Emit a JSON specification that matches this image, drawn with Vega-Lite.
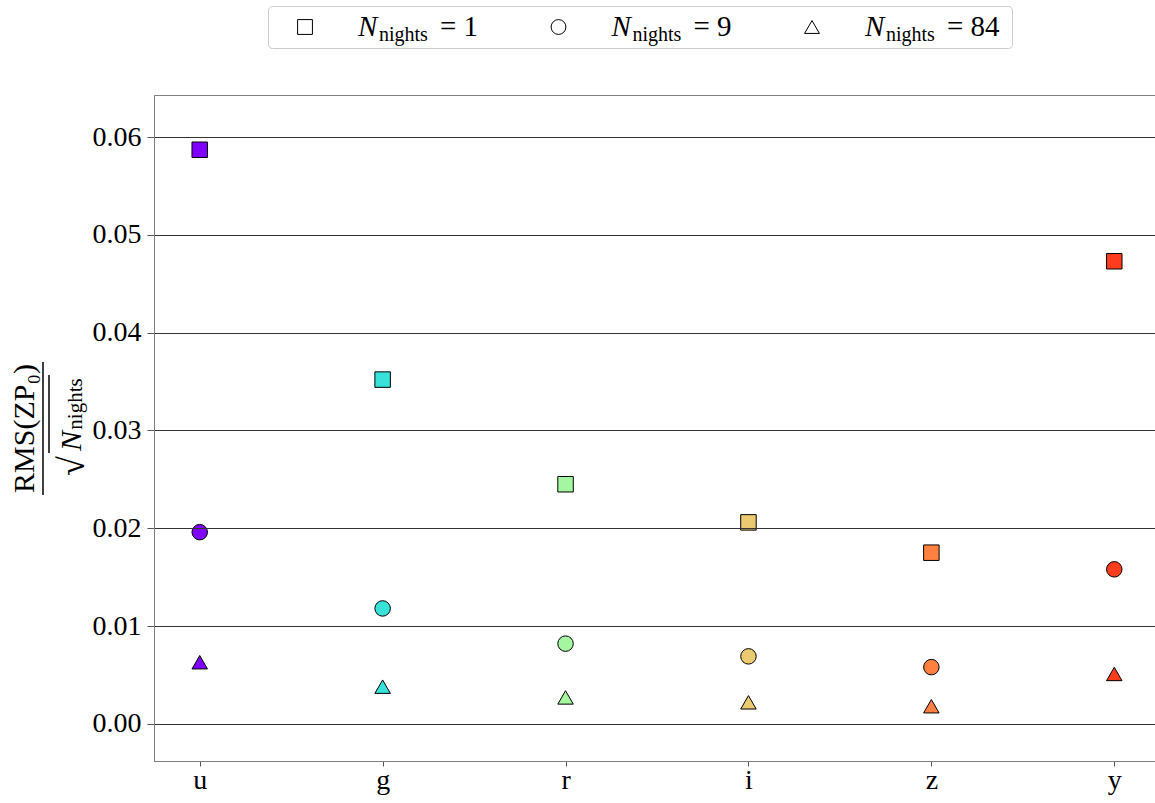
{
  "$schema": "https://vega.github.io/schema/vega-lite/v6.json",
  "padding": {"left": 0, "top": 5, "right": 0, "bottom": 0},
  "background": "white",
  "bounds": "flush",
  "spacing": 89,
  "config": {
    "font": "Liberation Serif",
    "text": {"font": "Liberation Serif", "color": "black"}
  },
  "vconcat": [
    {
      "bounds": "flush",
      "spacing": 0,
      "hconcat": [
        {
          "width": 268,
          "height": 42,
          "view": {"stroke": null},
          "data": {"values": [{"t": ""}]},
          "mark": {"type": "text"},
          "encoding": {"text": {"field": "t"}}
        },
        {
          "width": 744,
          "height": 42,
          "view": {"stroke": "#cccccc", "cornerRadius": 4, "strokeWidth": 1},
          "data": {"values": [
            {"k": 0, "shape": "square", "num": "= 1"},
            {"k": 1, "shape": "circle", "num": "= 9"},
            {"k": 2, "shape": "triangle-up", "num": "= 84"}
          ]},
          "encoding": {
            "x": {"field": "k", "type": "quantitative", "scale": {"domain": [-0.146, 2.789], "nice": false, "zero": false}, "axis": null}
          },
          "layer": [
            {
              "mark": {"type": "point", "filled": false, "stroke": "black", "strokeWidth": 1, "size": 220, "opacity": 1},
              "encoding": {"shape": {"field": "shape", "type": "nominal", "scale": null, "legend": null}}
            },
            {
              "mark": {"type": "text", "text": "N", "fontStyle": "italic", "fontSize": 29, "align": "left", "baseline": "alphabetic", "dx": 53, "dy": 9}
            },
            {
              "mark": {"type": "text", "text": "nights", "fontSize": 20, "align": "left", "baseline": "alphabetic", "dx": 74, "dy": 14}
            },
            {
              "mark": {"type": "text", "fontSize": 29, "align": "left", "baseline": "alphabetic", "dx": 135, "dy": 9},
              "encoding": {"text": {"field": "num", "type": "nominal"}}
            }
          ]
        }
      ]
    },
    {
      "bounds": "flush",
      "spacing": 54,
      "hconcat": [
        {
          "width": 100,
          "height": 665,
          "view": {"stroke": null},
          "data": {"values": [
            {"part": "num", "px": 0.25, "py": 0.4985, "t": "RMS(ZP₀)"},
            {"part": "N", "px": 0.72, "py": 0.4797, "t": "N"},
            {"part": "sub", "px": 0.76, "py": 0.5353, "t": "nights"},
            {"part": "sqrt", "px": 0.73, "py": 0.4421, "t": "√"}
          ]},
          "encoding": {
            "x": {"field": "px", "type": "quantitative", "scale": {"domain": [0, 1], "nice": false, "zero": false}, "axis": null},
            "y": {"field": "py", "type": "quantitative", "scale": {"domain": [0, 1], "nice": false, "zero": false}, "axis": null}
          },
          "layer": [
            {
              "transform": [{"filter": "datum.part == 'num'"}],
              "mark": {"type": "text", "angle": 270, "fontSize": 30, "align": "center", "baseline": "middle"},
              "encoding": {"text": {"field": "t", "type": "nominal"}}
            },
            {
              "transform": [{"filter": "datum.part == 'N'"}],
              "mark": {"type": "text", "angle": 270, "fontSize": 30, "fontStyle": "italic", "align": "center", "baseline": "middle"},
              "encoding": {"text": {"field": "t", "type": "nominal"}}
            },
            {
              "transform": [{"filter": "datum.part == 'sub'"}],
              "mark": {"type": "text", "angle": 270, "fontSize": 21, "align": "center", "baseline": "middle"},
              "encoding": {"text": {"field": "t", "type": "nominal"}}
            },
            {
              "transform": [{"filter": "datum.part == 'sqrt'"}],
              "mark": {"type": "text", "angle": 270, "fontSize": 36, "align": "center", "baseline": "middle"},
              "encoding": {"text": {"field": "t", "type": "nominal"}}
            },
            {
              "data": {"values": [
                {"lx": 0.43, "ly1": 0.3985, "ly2": 0.5985},
                {"lx": 0.49, "ly1": 0.4617, "ly2": 0.579}
              ]},
              "mark": {"type": "rule", "color": "black", "strokeWidth": 1.5},
              "encoding": {
                "x": {"field": "lx", "type": "quantitative"},
                "y": {"field": "ly1", "type": "quantitative"},
                "y2": {"field": "ly2"}
              }
            }
          ]
        },
        {
          "width": 1006,
          "height": 666,
          "view": {"stroke": "#808080", "strokeWidth": 1},
          "data": {"values": [
            {"band": "u", "n": "1", "value": 0.0587},
            {"band": "u", "n": "9", "value": 0.0196},
            {"band": "u", "n": "84", "value": 0.0063},
            {"band": "g", "n": "1", "value": 0.0352},
            {"band": "g", "n": "9", "value": 0.0118},
            {"band": "g", "n": "84", "value": 0.0038},
            {"band": "r", "n": "1", "value": 0.0245},
            {"band": "r", "n": "9", "value": 0.0082},
            {"band": "r", "n": "84", "value": 0.0027},
            {"band": "i", "n": "1", "value": 0.0206},
            {"band": "i", "n": "9", "value": 0.0069},
            {"band": "i", "n": "84", "value": 0.0022},
            {"band": "z", "n": "1", "value": 0.0175},
            {"band": "z", "n": "9", "value": 0.0058},
            {"band": "z", "n": "84", "value": 0.0018},
            {"band": "y", "n": "1", "value": 0.0473},
            {"band": "y", "n": "9", "value": 0.0158},
            {"band": "y", "n": "84", "value": 0.0051}
          ]},
          "mark": {"type": "point", "filled": true, "stroke": "black", "strokeWidth": 1, "size": 240, "opacity": 1},
          "encoding": {
            "x": {
              "field": "band", "type": "nominal",
              "scale": {"type": "point", "domain": ["u", "g", "r", "i", "z", "y"], "padding": 0.25},
              "axis": {"title": null, "labelAngle": 0, "labelFont": "Liberation Serif", "labelFontSize": 28, "labelColor": "black", "labelPadding": 0, "tickColor": "#555555", "tickSize": 5, "domainColor": "#808080", "grid": false}
            },
            "y": {
              "field": "value", "type": "quantitative",
              "scale": {"domain": [-0.0038, 0.0643], "nice": false, "zero": false},
              "axis": {"title": null, "values": [0, 0.01, 0.02, 0.03, 0.04, 0.05, 0.06], "format": ".2f", "labelFont": "Liberation Serif", "labelFontSize": 28, "labelColor": "black", "labelPadding": 6, "tickColor": "#555555", "tickSize": 7, "domainColor": "#808080", "grid": true, "gridColor": "#333333", "gridWidth": 1.2, "gridOpacity": 1, "zindex": 1}
            },
            "shape": {
              "field": "n", "type": "nominal",
              "scale": {"domain": ["1", "9", "84"], "range": ["square", "circle", "triangle-up"]},
              "legend": null
            },
            "fill": {
              "field": "band", "type": "nominal",
              "scale": {"domain": ["u", "g", "r", "i", "z", "y"], "range": ["#7f00ff", "#38e2d8", "#a4f7a0", "#ecca72", "#ff8040", "#ff3c1e"]},
              "legend": null
            }
          }
        }
      ]
    }
  ]
}
